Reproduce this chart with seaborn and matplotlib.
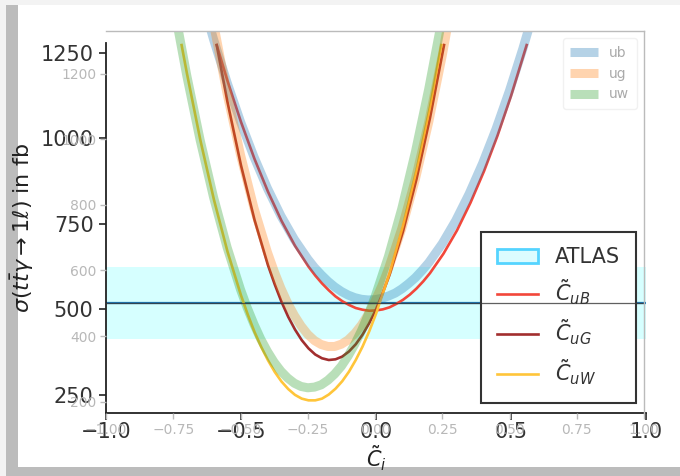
import matplotlib
matplotlib.use("Agg")
import matplotlib.pyplot as plt
import seaborn as sns
from matplotlib.patches import Patch, Rectangle

# ---------------- data ----------------
# foreground curves (big-tick axis)
cuB_x = [-0.59, -0.55, -0.50, -0.45, -0.40, -0.35, -0.30, -0.25, -0.225, -0.20, -0.175, -0.15,
         -0.125, -0.10, -0.075, -0.05, -0.025, 0.00, 0.025, 0.05, 0.075, 0.10, 0.125, 0.15,
         0.175, 0.20, 0.25, 0.30, 0.35, 0.40, 0.45, 0.50, 0.558]
cuB_y = [1272, 1167, 1047, 939, 843, 758, 685, 624, 598, 575, 555, 537,
         523, 512, 503, 498, 495, 496, 499, 505, 515, 527, 542, 560,
         581, 605, 662, 730, 811, 903, 1007, 1123, 1272]

cuG_x = [-0.59, -0.55, -0.50, -0.45, -0.40, -0.375, -0.35, -0.325, -0.30, -0.275, -0.25, -0.225,
         -0.20, -0.175, -0.15, -0.125, -0.10, -0.075, -0.05, -0.025, 0.00, 0.025, 0.05, 0.10,
         0.15, 0.20, 0.252]
cuG_y = [1272, 1105, 920, 761, 628, 572, 521, 477, 440, 409, 385, 367,
         356, 351, 353, 361, 376, 397, 425, 459, 499, 547, 600, 727,
         880, 1059, 1272]

cuW_x = [-0.72, -0.70, -0.65, -0.60, -0.55, -0.50, -0.475, -0.45, -0.425, -0.40, -0.375, -0.35,
         -0.325, -0.30, -0.275, -0.25, -0.225, -0.20, -0.175, -0.15, -0.125, -0.10, -0.075,
         -0.05, -0.025, 0.00, 0.05, 0.10, 0.15, 0.20, 0.242]
cuW_y = [1272, 1188, 992, 819, 668, 540, 484, 433, 389, 350, 316, 288,
         266, 249, 238, 233, 233, 238, 250, 267, 289, 317, 351,
         390, 435, 486, 604, 744, 906, 1091, 1272]

atlas_center = 517
atlas_low = 412
atlas_high = 622

# background curves (small-tick axis)
ub_x = [-0.65, -0.60, -0.55, -0.50, -0.45, -0.40, -0.35, -0.30, -0.25, -0.225, -0.20, -0.175,
        -0.15, -0.125, -0.10, -0.075, -0.05, -0.025, 0.00, 0.025, 0.05, 0.075, 0.10, 0.125,
        0.15, 0.175, 0.20, 0.25, 0.30, 0.35, 0.40, 0.45, 0.50, 0.55, 0.60]
ub_y = [1448, 1305, 1174, 1054, 947, 851, 767, 695, 635, 609, 587, 567,
        550, 536, 525, 517, 512, 510, 511, 515, 522, 531, 544, 560,
        578, 600, 624, 682, 752, 834, 927, 1032, 1149, 1278, 1418]

ug_x = [-0.65, -0.60, -0.55, -0.50, -0.45, -0.40, -0.375, -0.35, -0.325, -0.30, -0.275, -0.25,
        -0.225, -0.20, -0.175, -0.15, -0.125, -0.10, -0.075, -0.05, -0.025, 0.00, 0.025, 0.05,
        0.10, 0.15, 0.20, 0.25, 0.30]
ug_y = [1592, 1353, 1140, 953, 791, 656, 598, 546, 501, 463, 431, 405,
        386, 374, 368, 368, 375, 388, 408, 434, 467, 506, 552, 605,
        729, 878, 1054, 1256, 1484]

uw_x = [-0.80, -0.75, -0.70, -0.65, -0.60, -0.55, -0.50, -0.475, -0.45, -0.425, -0.40, -0.375,
        -0.35, -0.325, -0.30, -0.275, -0.25, -0.225, -0.20, -0.175, -0.15, -0.125, -0.10,
        -0.075, -0.05, -0.025, 0.00, 0.05, 0.10, 0.15, 0.20, 0.25]
uw_y = [1661, 1417, 1196, 998, 823, 671, 542, 486, 436, 391, 353, 320,
        293, 272, 256, 246, 242, 244, 251, 265, 284, 308, 339,
        375, 417, 465, 519, 643, 790, 961, 1155, 1371]

bg_ref = 500

fg_xticks = [-1.0, -0.5, 0.0, 0.5, 1.0]
fg_yticks = [250, 500, 750, 1000, 1250]
bg_xticks = [-1.0, -0.75, -0.5, -0.25, 0.0, 0.25, 0.5, 0.75, 1.0]
bg_yticks = [200, 400, 600, 800, 1000, 1200]

fg_labels = [r'$\tilde{C}_{uB}$', r'$\tilde{C}_{uG}$', r'$\tilde{C}_{uW}$']
bg_labels = ['ub', 'ug', 'uw']

# ---------------- figure ----------------
W, H = 680, 476
fig = plt.figure(figsize=(W / 100, H / 100), dpi=100, facecolor='white')


def rect(l, t, r, b):
    return [l / W, 1 - b / H, (r - l) / W, (b - t) / H]


# grey screenshot border
for (x0, y0, x1, y1, col) in [(0, 0, W, 5, '#f3f3f3'), (0, 0, 6, H, '#f3f3f3'),
                              (6, 5, 18, H, '#bcbcbc'), (6, 467, W, H, '#bcbcbc')]:
    fig.add_artist(Rectangle((x0 / W, 1 - y1 / H), (x1 - x0) / W, (y1 - y0) / H,
                             transform=fig.transFigure, facecolor=col, edgecolor='none', zorder=0))

ax = fig.add_axes(rect(106, 43, 646, 413))
axb = fig.add_axes(rect(106, 31, 644, 413))
ax.set_zorder(1)
axb.set_zorder(2)
ax.patch.set_visible(False)
axb.patch.set_visible(False)

# ---- foreground axis ----
ax.axhspan(atlas_low, atlas_high, facecolor='#00ffff', alpha=0.16, lw=0, zorder=1)
ax.axhline(atlas_center, color='#1f77b4', lw=1.6, zorder=2)
fg_cols = ['#f2473a', '#a22e2e', '#ffc53a']
for xs, ys, col, lab in zip([cuB_x, cuG_x, cuW_x], [cuB_y, cuG_y, cuW_y], fg_cols, fg_labels):
    sns.lineplot(x=xs, y=ys, ax=ax, color=col, lw=1.9, label=lab, zorder=3,
                 solid_joinstyle='round')

ax.set_xlim(-1, 1)
ax.set_ylim(196, 1278)
ax.set_xticks(fg_xticks)
ax.set_yticks(fg_yticks)
for s in ['top', 'right']:
    ax.spines[s].set_visible(False)
for s in ['left', 'bottom']:
    ax.spines[s].set_color('#222222')
    ax.spines[s].set_linewidth(1.3)
ax.tick_params(direction='out', length=5, width=1.2, color='#222222',
               labelsize=15, labelcolor='#333333')
ax.tick_params(axis='y', pad=4)
ax.tick_params(axis='x', pad=1.5)
ax.set_xlabel(r'$\tilde{C}_i$', fontsize=15, color='#222222', labelpad=1)
ax.set_ylabel(r'$\sigma(t\bar{t}\gamma \rightarrow 1\ell)$ in fb', fontsize=16,
              color='#222222', labelpad=3)

handles, labels = ax.get_legend_handles_labels()
atlas_patch = Patch(facecolor='#dcfcff', edgecolor='#55d4ff', lw=2, label='ATLAS')
leg = ax.legend([atlas_patch] + handles, ['ATLAS'] + labels, loc='lower right',
                fontsize=15, fancybox=False, framealpha=1, edgecolor='#333333',
                labelcolor='#333333', borderpad=0.75)
leg.get_frame().set_linewidth(1.5)

# ---- background axis ----
bg_cols = ['#1f77b4', '#ff7f0e', '#2ca02c']
for xs, ys, col, lab in zip([ub_x, ug_x, uw_x], [ub_y, ug_y, uw_y], bg_cols, bg_labels):
    sns.lineplot(x=xs, y=ys, ax=axb, color=col, lw=6.5, alpha=0.33, label=lab,
                 solid_joinstyle='round', solid_capstyle='butt')
axb.axhline(bg_ref, color='#383838', lw=0.9, alpha=0.8)

axb.set_xlim(-1, 1)
axb.set_ylim(165, 1331)
axb.set_xticks(bg_xticks)
axb.set_yticks(bg_yticks)
for s in ['left', 'bottom']:
    axb.spines[s].set_visible(False)
for s in ['top', 'right']:
    axb.spines[s].set_color('#bbbbbb')
    axb.spines[s].set_linewidth(1.0)
axb.tick_params(direction='out', length=4, width=1, color='#bbbbbb',
                labelsize=10, labelcolor='#b8b8b8')
axb.tick_params(axis='y', pad=3)
axb.tick_params(axis='x', pad=3)
axb.set_xlabel('')
axb.set_ylabel('')
lb = axb.legend(loc='upper right', fontsize=10, labelcolor='#aaaaaa', framealpha=0.8,
                edgecolor='#eeeeee', borderpad=0.55)

fig.savefig('out.png', dpi=100, facecolor='white')
